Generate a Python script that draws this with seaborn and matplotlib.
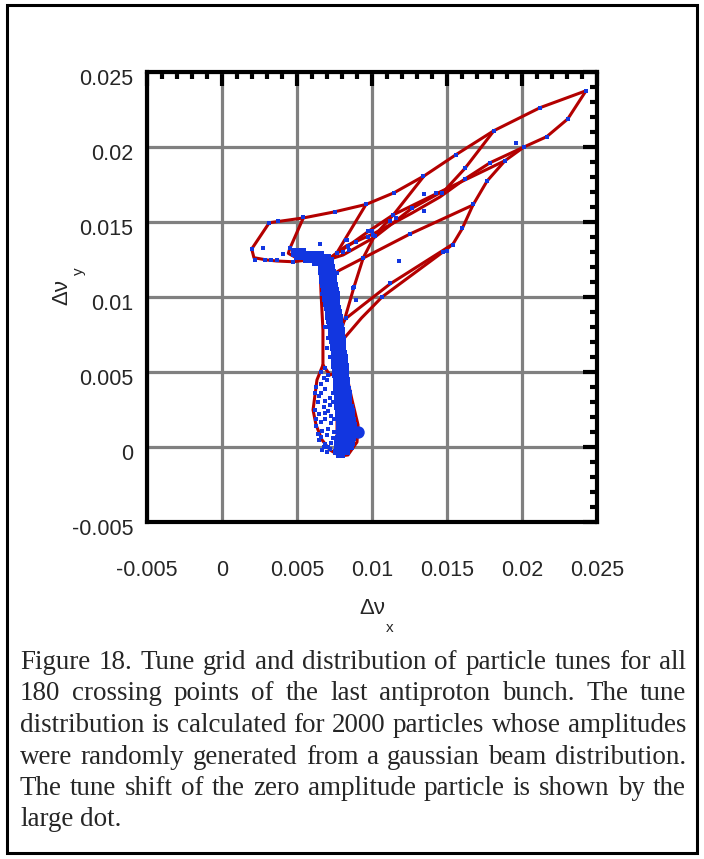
import numpy as np
import pandas as pd
import matplotlib
matplotlib.use("Agg")
import matplotlib.pyplot as plt
import matplotlib.transforms as mtransforms
import seaborn as sns
from matplotlib.ticker import FixedLocator, MultipleLocator

# ---------------- data (tune shifts in units of 1e-3) ----------------
UNIT = 1e-3

xticks = [-0.005, 0, 0.005, 0.01, 0.015, 0.02, 0.025]
xtick_labels = ["-0.005", "0", "0.005", "0.01", "0.015", "0.02", "0.025"]
yticks = [-0.005, 0, 0.005, 0.01, 0.015, 0.02, 0.025]
ytick_labels = ["-0.005", "0", "0.005", "0.01", "0.015", "0.02", "0.025"]

# red tune-grid lines
hull_x = [7.07, 5.73, 4.73, 3.65, 2.98, 2.13, 1.98, 3.15, 5.42, 7.47, 9.6, 11.47, 13.47, 15.6, 18.13, 21.2, 24.27]
hull_y = [12.6, 12.47, 12.35, 12.4, 12.47, 12.62, 13.2, 14.95, 15.27, 15.67, 16.17, 16.95, 18.07, 19.49, 21.09, 22.62, 23.75]
edge_x = [24.27, 23.05, 21.65, 20.13, 18.87, 17.67, 16.73, 16.0, 15.4, 14.73, 10.67, 9.3, 8.1]
edge_y = [23.75, 21.87, 20.69, 20.0, 19.09, 17.73, 16.13, 14.53, 13.53, 13.0, 10.0, 8.6, 7.2]
lineA_x = [15.4, 11.2, 8.27, 7.9]
lineA_y = [13.53, 10.87, 8.58, 8.1]
lineG_x = [16.73, 12.53, 7.87, 7.33]
lineG_y = [16.13, 14.2, 11.8, 11.47]
colC_x = [5.42, 4.53, 4.42, 4.98, 6.5, 7.2]
colC_y = [15.27, 13.25, 12.91, 12.6, 12.7, 12.55]
colD_x = [9.6, 7.65, 7.2]
colD_y = [16.17, 12.93, 12.47]
colE_x = [13.47, 11.42, 10.2, 9.42, 8.8, 8.2, 7.9]
colE_y = [18.07, 15.47, 14.13, 12.62, 10.67, 8.6, 7.6]
colF_x = [18.13, 16.2, 14.87, 12.65, 10.2, 8.07, 7.2]
colF_y = [21.09, 18.58, 17.13, 15.91, 14.0, 12.8, 12.53]
bund1_x = [20.13, 17.87, 16.2, 14.53, 12.67, 10.2, 8.27, 7.2]
bund1_y = [20.0, 18.95, 17.87, 16.67, 15.6, 14.27, 13.4, 12.6]
bund2_x = [18.87, 14.53, 11.4, 9.8, 8.4, 7.4]
bund2_y = [19.09, 17.0, 15.47, 14.4, 13.4, 12.73]
stem_x = [7.2, 6.53, 6.6, 6.73, 6.73, 6.33, 6.07, 6.27, 6.67, 7.2, 7.87, 8.4, 9.0, 9.07, 8.67, 8.2, 8.0, 7.73, 7.4, 7.2]
stem_y = [12.55, 12.33, 10.33, 7.8, 5.47, 4.47, 2.47, 1.47, 0.47, -0.2, -0.6, -0.53, 0.33, 1.47, 3.13, 5.27, 7.47, 9.67, 11.47, 12.55]
inner_x = [6.73, 7.2, 7.67, 7.67]
inner_y = [5.47, 4.8, 5.0, -0.33]
mid_x = [7.2, 7.33, 7.6, 7.67]
mid_y = [12.4, 9.0, 6.0, 5.0]

# scattered particles
sparse_x = [24.27, 21.2, 18.13, 19.6, 20.13, 21.65, 23.05, 15.6, 16.2, 17.87,
            18.87, 16.2, 17.65, 14.65, 13.42, 11.47, 9.6, 13.47, 13.47, 14.27,
            12.65, 11.38, 11.6, 11.2, 9.78, 9.98, 9.71, 10.2, 8.27, 8.91,
            8.42, 8.49, 8.09, 12.53, 16.75, 15.98, 15.38, 14.98, 14.75, 9.42,
            11.78, 11.2, 10.65, 8.8, 1.98, 2.71, 3.15, 3.75, 5.42, 7.53,
            6.53, 4.53, 4.07, 2.87, 3.65, 4.73, 5.13, 7.65, 8.31, 9.73,
            10.07, 7.65, 8.75, 8.93, 8.27, 2.2, 3.3]
sparse_y = [23.75, 22.62, 21.09, 20.29, 20.0, 20.69, 21.87, 19.49, 18.58, 18.95,
            19.09, 17.87, 17.75, 16.95, 18.07, 16.95, 16.18, 16.87, 15.73, 16.95,
            15.91, 15.47, 15.25, 15.09, 14.42, 14.42, 14.02, 14.07, 13.8, 13.67,
            13.4, 13.13, 13.02, 14.2, 16.18, 14.58, 13.47, 13.09, 13.02, 12.62,
            12.42, 10.91, 10.02, 10.65, 13.2, 13.29, 14.95, 15.09, 15.31, 15.69,
            13.51, 13.25, 12.87, 12.47, 12.47, 12.35, 12.67, 12.91, 13.8, 14.4,
            14.13, 11.62, 10.58, 9.8, 8.58, 12.5, 12.45]
lobe_x = [6.3, 6.6, 6.9, 7.2, 6.4, 6.8, 7.1, 6.5, 6.9, 7.3, 6.3, 6.7, 7.0, 6.5, 6.9, 7.2, 7.4, 7.5, 7.4, 6.2,
          6.6, 7.1, 6.4, 6.8, 7.2, 6.9, 7.4, 6.6, 7.0, 6.3, 7.3, 6.7, 7.0, 6.5, 7.3, 7.5, 6.2, 6.9, 7.1, 6.6]
lobe_y = [4.0, 3.6, 3.9, 3.3, 3.0, 2.7, 2.4, 2.2, 1.9, 1.6, 1.4, 1.1, 0.8, 0.5, 0.2, -0.1, 0.6, 1.9, 3.0, 2.5,
          1.7, 1.2, 0.9, 0.0, 2.8, 3.1, 3.6, 4.2, 4.5, 1.9, 0.3, -0.2, -0.3, 3.4, 2.1, 1.0, 3.6, 2.3, 0.0, 0.7]
stemleft_x = [6.6, 6.8, 6.7, 6.9, 7.0, 6.9, 7.1, 7.0, 7.2, 6.9, 7.1, 6.8, 7.0, 7.2, 7.3, 6.7, 6.6, 6.8]
stemleft_y = [11.5, 10.8, 10.2, 9.5, 8.8, 8.0, 7.3, 6.6, 6.0, 5.3, 4.8, 11.0, 9.9, 8.5, 7.0, 12.0, 5.0, 4.6]

# dense core of the distribution, rows of (dnu_y, [dnu_x ...])
core_top = [
    (13.1, [4.8, 5.1, 5.4]),
    (12.9, [4.8, 5.1, 5.4, 5.7, 6.0, 6.3, 6.6]),
    (12.7, [5.0, 5.3, 5.6, 5.9, 6.2, 6.5, 6.8, 7.05]),
    (12.5, [5.6, 5.9, 6.2, 6.5, 6.8, 7.05, 7.3]),
    (12.3, [6.2, 6.5, 6.8, 7.05, 7.3]),
]
core_upper = [
    (12.0, [6.6, 6.85, 7.1, 7.35]), (11.7, [6.6, 6.85, 7.1, 7.4]),
    (11.4, [6.65, 6.9, 7.15, 7.45]), (11.1, [6.7, 6.95, 7.2, 7.5]),
    (10.8, [6.75, 7.0, 7.25, 7.55]), (10.5, [6.8, 7.05, 7.3, 7.6]),
    (10.2, [6.85, 7.1, 7.35, 7.65]), (9.9, [6.9, 7.15, 7.4, 7.7]),
    (9.6, [6.95, 7.2, 7.45, 7.7]), (9.3, [7.0, 7.25, 7.5, 7.75]),
    (9.0, [7.05, 7.3, 7.55, 7.8]), (8.7, [7.1, 7.35, 7.6, 7.85]),
    (8.4, [7.15, 7.4, 7.65, 7.9]), (8.1, [7.2, 7.45, 7.7, 7.95]),
    (7.8, [7.25, 7.5, 7.75, 8.0]), (7.5, [7.3, 7.55, 7.8, 8.0]),
    (7.2, [7.35, 7.6, 7.85, 8.05]), (6.9, [7.4, 7.65, 7.9, 8.1]),
    (6.6, [7.4, 7.65, 7.9, 8.1]), (6.3, [7.45, 7.7, 7.95, 8.15]),
]
core_lower = [
    (6.0, [7.5, 7.75, 8.0, 8.2]), (5.7, [7.5, 7.75, 8.0, 8.2]),
    (5.4, [7.5, 7.75, 8.0, 8.25]), (5.1, [7.55, 7.8, 8.05, 8.3]),
    (4.8, [7.55, 7.8, 8.05, 8.3]), (4.5, [7.6, 7.85, 8.1, 8.35]),
    (4.2, [7.6, 7.85, 8.1, 8.35]), (3.9, [7.6, 7.85, 8.1, 8.4]),
    (3.6, [7.65, 7.9, 8.15, 8.45]), (3.3, [7.65, 7.9, 8.15, 8.45]),
    (3.0, [7.7, 7.95, 8.2, 8.5]), (2.7, [7.7, 7.95, 8.2, 8.5, 8.6]),
    (2.4, [7.75, 8.0, 8.25, 8.5, 8.65]), (2.1, [7.75, 8.0, 8.25, 8.5, 8.7]),
    (1.8, [7.8, 8.05, 8.3, 8.55, 8.75]), (1.5, [7.8, 8.05, 8.3, 8.55, 8.8]),
    (1.2, [7.8, 8.05, 8.3, 8.55, 8.8]), (0.9, [7.8, 8.05, 8.3, 8.55, 8.8]),
    (0.6, [7.75, 8.0, 8.25, 8.5, 8.75]), (0.3, [7.7, 7.95, 8.2, 8.45, 8.7]),
    (0.0, [7.65, 7.9, 8.15, 8.4, 8.6]), (-0.3, [7.6, 7.85, 8.1, 8.35]),
    (-0.5, [7.8, 8.0]),
]

# zero amplitude particle
zero_x = [9.1]
zero_y = [1.0]

caption_lines = [
    "Figure 18. Tune grid and distribution of particle tunes for all",
    "180 crossing points of the last antiproton bunch. The tune",
    "distribution is calculated for 2000 particles whose amplitudes",
    "were randomly generated from a gaussian beam distribution.",
    "The tune shift of the zero amplitude particle is shown by the",
    "large dot.",
]

# ---------------- figure ----------------
sns.set_style("white")
plt.rcParams["font.family"] = ["Liberation Sans", "DejaVu Sans"]
plt.rcParams["axes.unicode_minus"] = False

W, H = 704, 859
fig = plt.figure(figsize=(W / 100, H / 100), dpi=100)
fig.patch.set_facecolor("white")
ax = fig.add_axes([147 / W, 1 - 522 / H, 450 / W, 450 / H])

RED = "#b30000"
BLUE = "#1236e0"

lines = {
    "hull": (hull_x, hull_y), "edge": (edge_x, edge_y), "lineA": (lineA_x, lineA_y),
    "lineG": (lineG_x, lineG_y), "colC": (colC_x, colC_y), "colD": (colD_x, colD_y),
    "colE": (colE_x, colE_y), "colF": (colF_x, colF_y), "bund1": (bund1_x, bund1_y),
    "bund2": (bund2_x, bund2_y), "stem": (stem_x, stem_y), "inner": (inner_x, inner_y),
    "mid": (mid_x, mid_y),
}
frames = []
for name, (xs, ys) in lines.items():
    frames.append(pd.DataFrame({"x": np.array(xs) * UNIT, "y": np.array(ys) * UNIT,
                                "line": name, "order": np.arange(len(xs))}))
df_lines = pd.concat(frames, ignore_index=True)
sns.lineplot(data=df_lines, x="x", y="y", units="line", estimator=None, sort=False,
             color=RED, linewidth=2.2, ax=ax, legend=False, zorder=2)

core_x, core_y = [], []
for rows in (core_top, core_upper, core_lower):
    for yv, xs in rows:
        for xv in xs:
            core_x.append(xv)
            core_y.append(yv)

sns.scatterplot(x=np.array(core_x) * UNIT, y=np.array(core_y) * UNIT, marker="s", s=14,
                color=BLUE, linewidth=0, ax=ax, zorder=3)
sns.scatterplot(x=np.array(sparse_x + lobe_x + stemleft_x) * UNIT,
                y=np.array(sparse_y + lobe_y + stemleft_y) * UNIT,
                marker="s", s=5, color=BLUE, linewidth=0, ax=ax, zorder=3)
sns.scatterplot(x=np.array(zero_x) * UNIT, y=np.array(zero_y) * UNIT, marker="o", s=80,
                color=BLUE, linewidth=0, ax=ax, zorder=4)

ax.set_xlim(-0.005, 0.025)
ax.set_ylim(-0.005, 0.025)
ax.xaxis.set_major_locator(FixedLocator(xticks))
ax.yaxis.set_major_locator(FixedLocator(yticks))
ax.set_xticklabels(xtick_labels)
ax.set_yticklabels(ytick_labels)
ax.xaxis.set_minor_locator(MultipleLocator(0.001))
ax.yaxis.set_minor_locator(MultipleLocator(0.001))
ax.grid(True, which="major", color="#808080", linewidth=2.3)
ax.set_axisbelow(True)
ax.tick_params(which="both", direction="in", top=True, right=True, width=3, color="black")
ax.tick_params(which="major", length=10)
ax.tick_params(which="minor", length=5)
ax.tick_params(axis="x", pad=27, labelsize=15.5)
ax.tick_params(axis="y", pad=10, labelsize=15.5)
for sp in ax.spines.values():
    sp.set_linewidth(3)
    sp.set_color("black")
ax.set_xlabel("")
ax.set_ylabel("")
shift = mtransforms.ScaledTranslation(0, -5 / 100, fig.dpi_scale_trans)
for lab in ax.get_yticklabels():
    lab.set_transform(lab.get_transform() + shift)

# axis labels with lowered subscripts
fig.text(372 / W, 1 - 608 / H, "Δν", fontsize=16, ha="center", va="center")
fig.text(390 / W, 1 - 628 / H, "x", fontsize=11, ha="center", va="center")
fig.text(62 / W, 1 - 292 / H, "Δν", fontsize=16, ha="center", va="center", rotation=90)
fig.text(79 / W, 1 - 271 / H, "y", fontsize=11, ha="center", va="center", rotation=90)

# justified caption
renderer = fig.canvas.get_renderer()
x_left, x_right = 20, 686
probe = fig.text(0, 0, caption_lines[0], fontsize=16, family="Liberation Serif")
natural = probe.get_window_extent(renderer).width
probe.remove()
cap_fs = 16 * 652 / natural
base0, step = 669, 31.5
for i, line in enumerate(caption_lines):
    words = line.split()
    texts = [fig.text(0, 0, w, fontsize=cap_fs, family="Liberation Serif", va="baseline")
             for w in words]
    widths = [t.get_window_extent(renderer).width for t in texts]
    if i < len(caption_lines) - 1 and len(words) > 1:
        gap = (x_right - x_left - sum(widths)) / (len(words) - 1)
    else:
        gap = cap_fs * 0.25 * 100 / 72
    xpos = x_left
    yb = base0 + i * step
    for t, w in zip(texts, widths):
        t.set_position((xpos / W, 1 - yb / H))
        xpos += w + gap

# outer frame
fig.add_artist(plt.Rectangle((7 / W, 1 - 853 / H), 690 / W, 848 / H, transform=fig.transFigure,
                             fill=False, edgecolor="black", linewidth=2.2))

fig.savefig("out.png", dpi=100)
